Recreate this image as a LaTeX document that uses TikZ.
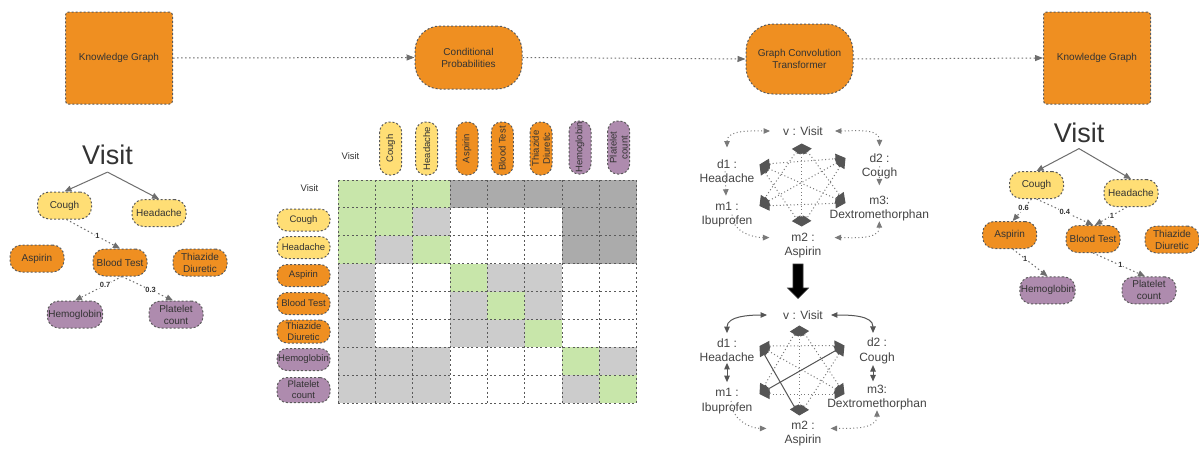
\documentclass[tikz,border=0pt]{standalone}
\usepackage{fontspec}
\setmainfont{Liberation Sans}
\usetikzlibrary{arrows.meta,calc}
\definecolor{orng}{HTML}{EF8F21}
\definecolor{yel}{HTML}{FFDE75}
\definecolor{purp}{HTML}{AE8BAE}
\definecolor{grn}{HTML}{C8E6AA}
\definecolor{lgr}{HTML}{CCCCCC}
\definecolor{dgr}{HTML}{ABABAB}
\definecolor{bordc}{HTML}{5A5A5A}
\definecolor{arrc}{HTML}{6E6E6E}
\definecolor{txtc}{HTML}{333333}
\definecolor{gtxt}{HTML}{444444}
\definecolor{gline}{HTML}{7A7A7A}
\definecolor{hexc}{HTML}{555555}
\def\mcw{37.35}
\def\mch{27.9}
\tikzset{
  bd/.style={draw=bordc, line width=1pt, dash pattern=on 2pt off 2pt},
  pillbase/.style={bd, rounded corners=11.5pt, minimum width=54pt, minimum height=27pt, inner sep=1pt, align=center, text=txtc, font=\fontsize{10}{12}\selectfont},
  pillO/.style={pillbase, fill=orng},
  pillY/.style={pillbase, fill=yel},
  pillP/.style={pillbase, fill=purp},
  mpill/.style={bd, rounded corners=10pt, minimum width=53pt, minimum height=22pt, inner sep=0.5pt, align=center, text=txtc, font=\fontsize{9.5}{11}\selectfont},
  mO/.style={mpill, fill=orng}, mY/.style={mpill, fill=yel}, mP/.style={mpill, fill=purp},
  sqbox/.style={bd, fill=orng, rounded corners=3pt, minimum width=107pt, minimum height=92pt, text=txtc, font=\fontsize{10}{12}\selectfont, align=center},
  rbox/.style={bd, fill=orng, minimum width=107pt, text=txtc, font=\fontsize{10}{12}\selectfont, align=center, inner sep=2pt},
  flowarr/.style={draw=arrc, line width=1pt, dash pattern=on 1.5pt off 2.5pt, -{Triangle[length=8pt,width=6pt]}},
  solarr/.style={draw=arrc, line width=1pt, -{Triangle[length=7pt,width=6pt]}},
  treedot/.style={draw=arrc, line width=1pt, dash pattern=on 1.5pt off 2.5pt, -{Triangle[length=7pt,width=6pt]}},
  elab/.style={fill=white, inner sep=0.6pt, font=\bfseries\fontsize{7.5}{8}\selectfont, text=txtc},
  gridl/.style={draw=bordc, line width=1pt, dash pattern=on 2pt off 2.6pt},
  glab/.style={inner sep=0pt, align=center, text=gtxt, font=\fontsize{12}{14.5}\selectfont},
  gdot/.style={draw=gline, line width=1pt, dash pattern=on 1pt off 2.5pt},
  gsol/.style={draw=hexc, line width=1pt},
  hexdot/.style={draw=gline, line width=1pt, dash pattern=on 1pt off 2.5pt, {Triangle[length=10pt,width=10pt,color=hexc]}-{Triangle[length=10pt,width=10pt,color=hexc]}},
  hexsol/.style={draw=hexc, line width=1pt, {Triangle[length=10pt,width=10pt,color=hexc]}-{Triangle[length=10pt,width=10pt,color=hexc]}},
  >={Triangle[length=6.5pt,width=5.5pt]}
}
\begin{document}
\begin{tikzpicture}[x=1pt,y=-1pt]
\useasboundingbox (0,0) rectangle (1199,448);
\fill[white] (0,0) rectangle (1199,448);

% ---------- top row ----------
\node[sqbox] (kg1) at (119,58) {Knowledge Graph};
\node[rbox, rounded corners=25pt, minimum height=63pt] (cp) at (468.5,57.5) {Conditional\\Probabilities};
\node[rbox, rounded corners=27pt, minimum height=70pt] (gct) at (799.5,59) {Graph Convolution\\Transformer};
\node[sqbox] (kg2) at (1097,58) {Knowledge Graph};
\draw[flowarr] (kg1.east) -- (cp.west);
\draw[flowarr] (cp.east) -- (gct.west);
\draw[flowarr] (gct.east) -- (kg2.west);

% ---------- left tree ----------
\node[font=\fontsize{27}{30}\selectfont, text=txtc, inner sep=0pt] (lv) at (107.5,155) {Visit};
\node[pillY] (lc) at (64.5,205.5) {Cough};
\node[pillY] (lh) at (159,213) {Headache};
\node[pillO] (la) at (37,258.5) {Aspirin};
\node[pillO] (lb) at (120,262.5) {Blood Test};
\node[pillO] (lt) at (200,262.5) {Thiazide\\Diuretic};
\node[pillP] (lhe) at (75,314.5) {Hemoglobin};
\node[pillP] (lp) at (176,314.5) {Platelet\\count};
\draw[solarr] ([yshift=-7pt]lv.south) -- (lc.north);
\draw[solarr] ([yshift=-7pt]lv.south) -- (lh.north);
\draw[treedot] ([xshift=2pt]lc.south) -- node[elab,pos=0.58]{1} (lb.north);
\draw[treedot] ([xshift=2pt]lb.south) -- node[elab,pos=0.36]{0.7} (lhe.north);
\draw[treedot] ([xshift=2pt]lb.south) -- node[elab,pos=0.56]{0.3} ([xshift=-3pt]lp.north);

% ---------- matrix ----------
\foreach \r/\cl in {1/{grn,grn,grn,dgr,dgr,dgr,dgr,dgr},2/{grn,grn,lgr,white,white,white,dgr,dgr},3/{grn,lgr,grn,white,white,white,dgr,dgr},4/{lgr,white,white,grn,lgr,lgr,white,white},5/{lgr,white,white,lgr,grn,lgr,white,white},6/{lgr,white,white,lgr,lgr,grn,white,white},7/{lgr,lgr,lgr,white,white,white,grn,lgr},8/{lgr,lgr,lgr,white,white,white,lgr,grn}}{
  \foreach \c [count=\i] in \cl {
    \fill[\c] ({338+(\i-1)*\mcw},{180+(\r-1)*\mch}) rectangle ++(\mcw,\mch);
  }
}
\foreach \i in {0,...,8} {
  \draw[gridl] ({338+\i*\mcw},180) -- ({338+\i*\mcw},{180+8*\mch});
  \draw[gridl] (338,{180+\i*\mch}) -- ({338+8*\mcw},{180+\i*\mch});
}
\node[text=txtc, font=\fontsize{9.5}{11}\selectfont] (mrV) at (309.5,188) {Visit};
\node[mY] (mrC) at (303.5,220) {Cough};
\node[mY] (mrH) at (303.5,247.5) {Headache};
\node[mO] (mrA) at (303.5,275.5) {Aspirin};
\node[mO] (mrB) at (303.5,303.5) {Blood Test};
\node[mO, minimum height=23pt] (mrT) at (303.5,331.5) {Thiazide\\Diuretic};
\node[mP] (mrHe) at (303.5,359.5) {Hemoglobin};
\node[mP, minimum height=25pt] (mrP) at (303.5,390) {Platelet\\count};
\node[text=txtc, font=\fontsize{9.5}{11}\selectfont] (mcV) at (350.5,156.5) {Visit};
\node[mY, rotate=90] (mcC) at (390.7,148.5) {Cough};
\node[mY, rotate=90] (mcH) at (426.7,148.5) {Headache};
\node[mO, rotate=90] (mcA) at (467,148.5) {Aspirin};
\node[mO, rotate=90] (mcB) at (502.3,148.5) {Blood Test};
\node[mO, rotate=90] (mcT) at (541,148.5) {Thiazide\\Diuretic};
\node[mP, rotate=90] (mcHe) at (580,147.5) {Hemoglobin};
\node[mP, rotate=90] (mcP) at (618.7,147.5) {Platelet\\count};

% ---------- top graph ----------
\node[glab] (gv) at (803,131) {v : Visit};
\node[glab] (gd1) at (727,171.4) {d1 :\\Headache};
\node[glab] (gd2) at (879.5,166.3) {d2 :\\Cough};
\node[glab] (gm1) at (727,214.6) {m1 :\\Ibuprofen};
\node[glab] (gm3) at (879.3,208.3) {m3:\\Dextromethorphan};
\node[glab] (gm2) at (803,245.6) {m2 :\\Aspirin};
\draw[gdot,<->] ([yshift=12pt]gd1.north) to[out=90,in=180] ([xshift=-13pt]gv.west);
\draw[gdot,<->] ([xshift=12pt]gv.east) to[out=0,in=90] ([yshift=7pt]gd2.north);
\draw[gdot,->] ([xshift=-2pt]gd1.center) -- ([xshift=-1pt,yshift=6pt]gm1.north);
\draw[gdot,->] (gd2.center) -- ([yshift=10pt]gm3.north);
\draw[gdot,->] ([xshift=5pt]gm1.center) to[out=-90,in=180] ([xshift=-15pt,yshift=8pt]gm2.west);
\draw[gdot,<->] (gm3.south) to[out=-90,in=0] ([xshift=13pt,yshift=8pt]gm2.east);
\coordinate (tA) at (801.7,143.5);
\coordinate (tB) at (759.5,164.5);
\coordinate (tC) at (845.5,158);
\coordinate (tD) at (759.5,206);
\coordinate (tE) at (845.5,203);
\coordinate (tF) at (801.7,226.5);
\foreach \a/\b in {tA/tD,tA/tE,tD/tE,tB/tC,tB/tF,tC/tF,tA/tF,tB/tE,tC/tD}
  \draw[hexdot] (\a) -- (\b);

% ---------- big arrow ----------
\filldraw[black, draw=black!80, line width=0.6pt] (793,264) -- (803,264) -- (803,288) -- (808.5,288) -- (798,298.5) -- (787.5,288) -- (793,288) -- cycle;

% ---------- bottom graph ----------
\node[glab] (bv) at (803,315) {v : Visit};
\node[glab] (bd1) at (727,350) {d1 :\\Headache};
\node[glab] (bd2) at (877,351) {d2 :\\Cough};
\node[glab] (bm1) at (727,401) {m1 :\\Ibuprofen};
\node[glab] (bm3) at (877,397.3) {m3:\\Dextromethorphan};
\node[glab] (bm2) at (803,433.4) {m2 :\\Aspirin};
\draw[gsol,<->] ([yshift=5pt]bd1.north) to[out=90,in=180] ([xshift=-16pt]bv.west);
\draw[gsol,<->] ([xshift=8pt]bv.east) to[out=0,in=90] ([xshift=-4pt,yshift=5pt]bd2.north);
\draw[gsol,<->] ([yshift=-1pt]bd1.south) -- ([yshift=6pt]bm1.north);
\draw[gsol,<->] ([xshift=-4pt,yshift=-1pt]bd2.south) -- ([xshift=-4pt,yshift=3pt]bm3.north);
\draw[gdot,->] ([xshift=4pt]bm1.center) to[out=-90,in=180] ([xshift=-18pt,yshift=5pt]bm2.west);
\draw[gdot,<->] (bm3.south) to[out=-90,in=0] ([xshift=9pt,yshift=5pt]bm2.east);
\coordinate (bA) at (799.3,325.5);
\coordinate (bB) at (759.5,346);
\coordinate (bC) at (844.5,345.5);
\coordinate (bD) at (759.5,394);
\coordinate (bE) at (844.5,394);
\coordinate (bF) at (799.3,415.5);
\foreach \a/\b in {bA/bD,bA/bE,bD/bE,bB/bC,bC/bF,bA/bF,bB/bE}
  \draw[hexdot] (\a) -- (\b);
\draw[hexsol] (bB) -- (bF);
\draw[hexsol] (bD) -- (bC);

% ---------- right tree ----------
\node[font=\fontsize{27}{30}\selectfont, text=txtc, inner sep=0pt] (rv) at (1079,133) {Visit};
\node[pillY] (rc) at (1036.5,185) {Cough};
\node[pillY] (rh) at (1131,193) {Headache};
\node[pillO] (ra) at (1009.7,235) {Aspirin};
\node[pillO] (rb) at (1093,239) {Blood Test};
\node[pillO] (rt) at (1172,239.5) {Thiazide\\Diuretic};
\node[pillP] (rhe) at (1047.5,290.3) {Hemoglobin};
\node[pillP] (rp) at (1149,290.3) {Platelet\\count};
\draw[solarr] ([yshift=-5.5pt]rv.south) -- (rc.north);
\draw[solarr] ([yshift=-5.5pt]rv.south) -- (rh.north);
\draw[treedot] ([xshift=-5pt]rc.south) -- node[elab,pos=0.42]{0.6} ([xshift=3pt]ra.north);
\draw[treedot] (rc.south) -- node[elab,pos=0.5]{0.4} (rb.north);
\draw[treedot] ([xshift=-4pt]rh.south) -- node[elab,pos=0.47]{1} ([xshift=2pt]rb.north);
\draw[treedot] ([xshift=3pt]ra.south) -- node[elab,pos=0.36]{1} (rhe.north);
\draw[treedot] (rb.south) -- node[elab,pos=0.53]{1} ([xshift=-4pt]rp.north);
\end{tikzpicture}
\end{document}
